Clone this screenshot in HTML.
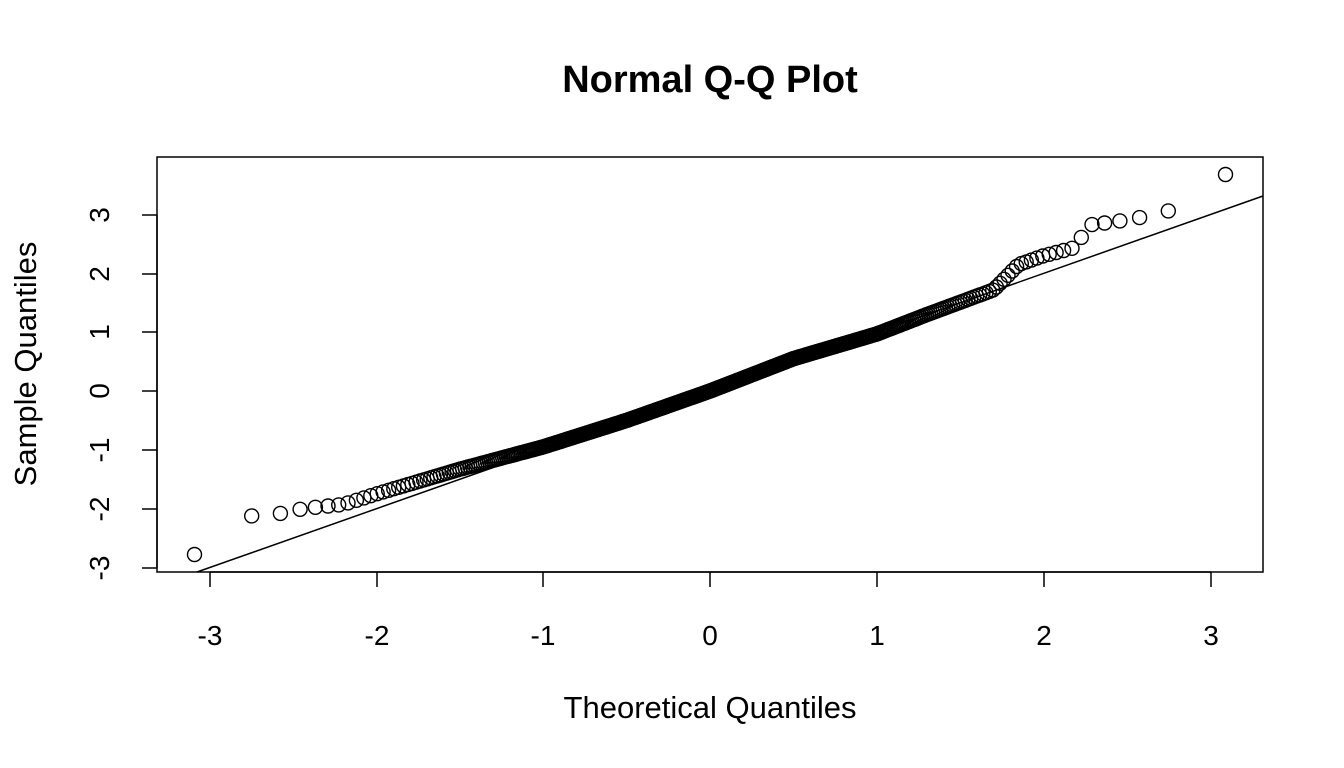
<!DOCTYPE html>
<html><head><style>
html,body{margin:0;padding:0;background:#fff;}
svg{display:block;font-family:"Liberation Sans",Arial,sans-serif;}
</style></head><body>
<svg id="s" width="1344" height="768" viewBox="0 0 1344 768">
<text x="710" y="92" text-anchor="middle" font-size="38" font-weight="bold">Normal Q-Q Plot</text>
<rect x="157" y="157" width="1106" height="415" fill="none" stroke="#000" stroke-width="1.5"/>
<g stroke="#000" stroke-width="1.5">
<line x1="210" y1="572" x2="1211" y2="572"/>
<line x1="210" y1="572" x2="210" y2="587"/><line x1="377" y1="572" x2="377" y2="587"/><line x1="543" y1="572" x2="543" y2="587"/><line x1="710" y1="572" x2="710" y2="587"/><line x1="877" y1="572" x2="877" y2="587"/><line x1="1044" y1="572" x2="1044" y2="587"/><line x1="1211" y1="572" x2="1211" y2="587"/>
<line x1="157" y1="215" x2="157" y2="568"/>
<line x1="142" y1="215" x2="157" y2="215"/><line x1="142" y1="274" x2="157" y2="274"/><line x1="142" y1="332" x2="157" y2="332"/><line x1="142" y1="391" x2="157" y2="391"/><line x1="142" y1="450" x2="157" y2="450"/><line x1="142" y1="509" x2="157" y2="509"/><line x1="142" y1="568" x2="157" y2="568"/>
</g>
<g font-size="28" text-anchor="middle">
<text x="210" y="645">-3</text><text x="377" y="645">-2</text><text x="543" y="645">-1</text><text x="710" y="645">0</text><text x="877" y="645">1</text><text x="1044" y="645">2</text><text x="1211" y="645">3</text>
<text transform="translate(109,215) rotate(-90)">3</text>
<text transform="translate(109,274) rotate(-90)">2</text>
<text transform="translate(109,332) rotate(-90)">1</text>
<text transform="translate(109,391) rotate(-90)">0</text>
<text transform="translate(109,450) rotate(-90)">-1</text>
<text transform="translate(109,509) rotate(-90)">-2</text>
<text transform="translate(109,568) rotate(-90)">-3</text>
</g>
<text x="710" y="718" text-anchor="middle" font-size="31">Theoretical Quantiles</text>
<text transform="translate(36,364) rotate(-90)" text-anchor="middle" font-size="31">Sample Quantiles</text>
<line x1="197" y1="572" x2="1263" y2="196" stroke="#000" stroke-width="1.5"/>
<g id="pts" fill="none" stroke="#000" stroke-width="1.4"></g>
</svg>
<script>
function qn(p){var a=[-39.69683028665376,220.9460984245205,-275.9285104469687,138.3577518672690,-30.66479806614716,2.506628277459239],b=[-54.47609879822406,161.5858368580409,-155.6989798598866,66.80131188771972,-13.28068155288572],c=[-0.007784894002430293,-0.3223964580411365,-2.400758277161838,-2.549732539343734,4.374664141464968,2.938163982698783],d=[0.007784695709041462,0.3224671290700398,2.445134137142996,3.754408661907416],q,r;
if(p<0.02425){q=Math.sqrt(-2*Math.log(p));return(((((c[0]*q+c[1])*q+c[2])*q+c[3])*q+c[4])*q+c[5])/((((d[0]*q+d[1])*q+d[2])*q+d[3])*q+1);}
if(p>1-0.02425){q=Math.sqrt(-2*Math.log(1-p));return-(((((c[0]*q+c[1])*q+c[2])*q+c[3])*q+c[4])*q+c[5])/((((d[0]*q+d[1])*q+d[2])*q+d[3])*q+1);}
q=p-0.5;r=q*q;return(((((a[0]*r+a[1])*r+a[2])*r+a[3])*r+a[4])*r+a[5])*q/(((((b[0]*r+b[1])*r+b[2])*r+b[3])*r+b[4])*r+1);}
var A=[[-3.1,-2.8],[-2.73,-2.09],[-2.56,-2.08],[-2.44,-2.0],[-2.2,-1.93],[-2,-1.75],[-1.5,-1.33],[-1,-0.95],[-0.5,-0.5],[0,0],[0.5,0.55],[1,0.97],[1.3,1.3],[1.7,1.72],[1.85,2.15],[2.0,2.3],[2.2,2.45],[2.26,2.82],[2.43,2.88],[2.56,2.94],[2.73,3.03],[3.1,3.7]];
function f(x){for(var i=0;i<A.length-1;i++){if(x<=A[i+1][0]){var t=(x-A[i][0])/(A[i+1][0]-A[i][0]);return A[i][1]+t*(A[i+1][1]-A[i][1]);}}return A[A.length-1][1];}
var n=500,h='';for(var i=1;i<=n;i++){var x=qn((i-0.5)/n),y=f(x);h+='<circle cx="'+(710+x*166.8).toFixed(1)+'" cy="'+(391-y*58.8).toFixed(1)+'" r="7"/>';}
document.getElementById('pts').innerHTML=h;
</script>
</body></html>
